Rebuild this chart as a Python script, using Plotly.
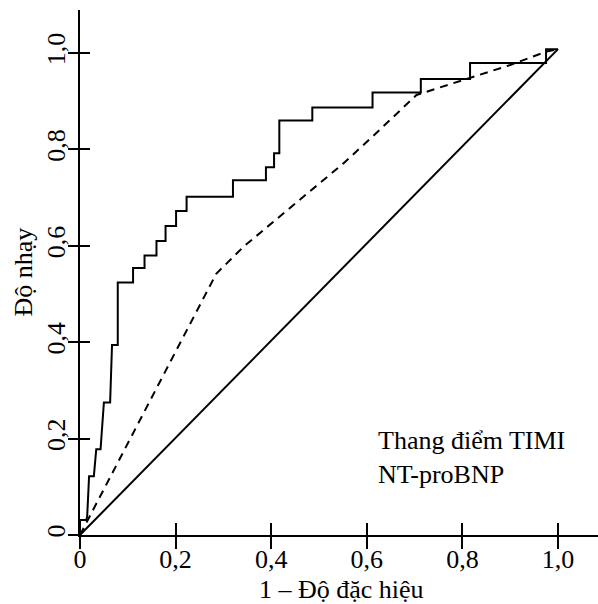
import plotly.graph_objects as go

# Step ROC curve (NT-proBNP) – 1-specificity vs sensitivity
step_fpr = [0, 0, 0.013, 0.015, 0.019, 0.029, 0.034, 0.043, 0.050, 0.063, 0.067, 0.079,
            0.079, 0.111, 0.111, 0.135, 0.135, 0.160, 0.160, 0.179, 0.179, 0.201, 0.201,
            0.223, 0.223, 0.320, 0.320, 0.389, 0.389, 0.406, 0.406, 0.417, 0.417, 0.486,
            0.486, 0.612, 0.612, 0.713, 0.713, 0.816, 0.816, 0.975, 0.975, 1.0]
step_tpr = [0, 0.031, 0.031, 0.038, 0.122, 0.122, 0.178, 0.178, 0.275, 0.275, 0.394, 0.394,
            0.524, 0.524, 0.554, 0.554, 0.580, 0.580, 0.610, 0.610, 0.641, 0.641, 0.672,
            0.672, 0.702, 0.702, 0.736, 0.736, 0.763, 0.763, 0.792, 0.792, 0.860, 0.860,
            0.887, 0.887, 0.918, 0.918, 0.946, 0.946, 0.979, 0.979, 1.008, 1.008]

# Dashed ROC curve (TIMI score)
timi_fpr = [0, 0.285, 0.342, 0.411, 0.481, 0.551, 0.621, 0.704, 0.802, 0.900, 0.976, 1.0]
timi_tpr = [0, 0.542, 0.598, 0.655, 0.712, 0.771, 0.835, 0.913, 0.944, 0.975, 1.003, 1.008]

# Reference diagonal
diag_x = [0, 1.0]
diag_y = [0, 1.008]

tick_vals = [0, 0.2, 0.4, 0.6, 0.8, 1.0]
tick_text = ["0", "0,2", "0,4", "0,6", "0,8", "1,0"]

x_title = "1 – Độ đặc hiệu"
y_title = "Độ nhạy"
legend_lines = ["Thang điểm TIMI", "NT-proBNP"]

FONT = "Liberation Serif, Times New Roman, serif"
W, H = 598, 604
ML, MR, MT, MB = 80, 0, 10, 69
PW, PH = W - ML - MR, H - MT - MB
xmax = PW / 478.0
ymax = PH / 482.0

fig = go.Figure()
fig.add_trace(go.Scatter(x=step_fpr, y=step_tpr, mode="lines",
                         line=dict(color="black", width=2), showlegend=False))
fig.add_trace(go.Scatter(x=timi_fpr, y=timi_tpr, mode="lines", xaxis="x3", yaxis="y3",
                         line=dict(color="black", width=2, dash="8px,6px"), showlegend=False))
fig.add_trace(go.Scatter(x=diag_x, y=diag_y, mode="lines", xaxis="x2", yaxis="y2",
                         line=dict(color="black", width=2), showlegend=False))

tickfont = dict(family=FONT, size=26, color="black")


def axis(**kw):
    d = dict(showgrid=False, zeroline=False, showline=True, linecolor="black",
             linewidth=2, tickmode="array", tickvals=tick_vals, automargin=False)
    d.update(kw)
    return d


fig.update_layout(
    width=W, height=H,
    margin=dict(l=ML, r=MR, t=MT, b=MB, autoexpand=False),
    paper_bgcolor="white", plot_bgcolor="white",
    font=dict(family=FONT, size=26, color="black"),
    xaxis=axis(range=[0, xmax], ticks="", ticktext=tick_text, tickfont=tickfont,
               ticklabelstandoff=0),
    yaxis=axis(range=[0, ymax], ticks="", ticktext=tick_text, tickfont=tickfont,
               tickangle=-90, ticklabelstandoff=3),
    xaxis2=axis(range=[0, xmax], overlaying="x", anchor="y2", side="bottom",
                ticks="outside", ticklen=12, tickwidth=2, tickcolor="black",
                showticklabels=False),
    yaxis2=axis(range=[0, ymax], overlaying="y", anchor="x2", side="left",
                ticks="outside", ticklen=10, tickwidth=2, tickcolor="black",
                showticklabels=False),
    xaxis3=axis(range=[0, xmax], overlaying="x", anchor="y3", side="bottom",
                ticks="inside", ticklen=12, tickwidth=2, tickcolor="black",
                showticklabels=False),
    yaxis3=axis(range=[0, ymax], overlaying="y", anchor="x3", side="left",
                ticks="inside", ticklen=10, tickwidth=2, tickcolor="black",
                showticklabels=False),
    annotations=[
        dict(x=0.619, y=0.161, xref="x", yref="y", xanchor="left", yanchor="middle",
             align="left", showarrow=False, text="<br>".join(legend_lines),
             font=dict(family=FONT, size=26, color="black")),
        dict(x=(341 - ML) / PW, y=-(589 - (MT + PH)) / PH, xref="paper", yref="paper",
             xanchor="center", yanchor="middle", showarrow=False, text=x_title,
             font=dict(family=FONT, size=26, color="black")),
        dict(x=(23 - ML) / PW, y=0.5, xref="paper", yref="paper", textangle=-90,
             xanchor="center", yanchor="middle", showarrow=False, text=y_title,
             font=dict(family=FONT, size=26, color="black")),
    ],
)

fig.write_html("out.html")
